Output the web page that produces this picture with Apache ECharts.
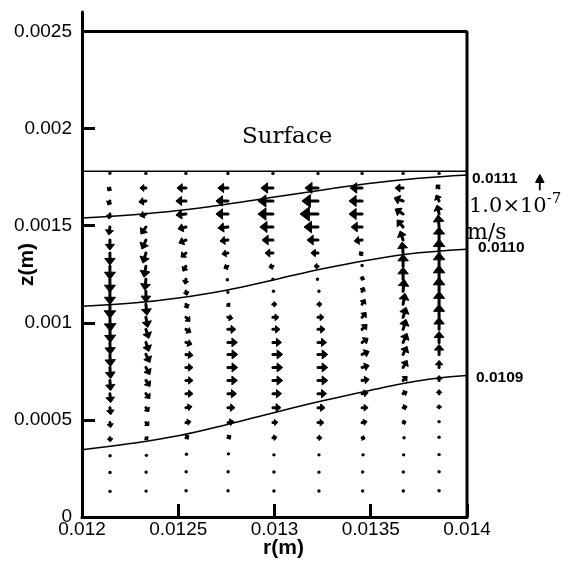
<!DOCTYPE html>
<html>
<head>
<meta charset="utf-8">
<script src="https://cdn.jsdelivr.net/npm/echarts@6/dist/echarts.min.js"></script>
<style>
  html, body { margin: 0; padding: 0; background: #fff; }
  #chart { width: 568px; height: 561px; }
</style>
</head>
<body>
<div id="chart"></div>
<script>
// Radial positions of the vector columns (m)
const rCols = [0.012145, 0.012332, 0.01254, 0.012758, 0.012992, 0.013226, 0.013455, 0.013668, 0.013855];
// Axial positions of the vector rows (m), top row first
const zRows = [0.001767, 0.001694, 0.001627, 0.00156, 0.001493, 0.001426, 0.001359, 0.001291,
               0.001224, 0.001162, 0.001095, 0.001028, 0.000966, 0.000899, 0.000837, 0.00077,
               0.000703, 0.000635, 0.000563, 0.000486, 0.000408, 0.00032, 0.000232, 0.000134];

// Radial velocity u, in 1e-8 m/s (one inner array per column, top row first)
const uVel = [
  [0, -1.3, -1.3, -0.7, -0.7, 0, 0, 0, 0, 0, 0, 0.3, 0.3, 0.3, 0.4, 0.5, 0.5, 0.5, 0.6, 0.5, 0.3, 0.2, 0.1, 0.1],
  [0, -4, -4.7, -4, -3.3, -2.7, -2, -1.3, -0.7, 0, 0.7, 1.3, 2, 2, 2.7, 2.7, 2.7, 2.7, 2, 2, 1.3, 0.7, 0.3, 0.2],
  [0, -6, -6.7, -6.7, -5.3, -4.7, -3.3, -2, -0.7, 0.7, 1.3, 2.7, 3.3, 4, 4.7, 4.7, 4.7, 4.7, 4, 3.3, 2, 0.7, 0.3, 0.2],
  [0, -6.7, -8, -8, -6.7, -5.3, -4, -2.7, -0.7, 0, 1.3, 3.3, 5.3, 6.3, 6.5, 6.5, 6.3, 5.7, 4.7, 4, 2, 0.7, 0.3, 0.2],
  [0, -8, -10, -10, -8.7, -7.3, -5.3, -2.7, 0, 0.7, 2.7, 4, 4.7, 5.7, 6.5, 6.5, 6.5, 5.7, 5.3, 3.3, 2.7, 1.3, 1.3, 1.3],
  [0, -8.7, -10.7, -12, -9.3, -7.3, -4.7, -2.7, -0.7, 1.3, 2.7, 4, 4.7, 5.7, 6.5, 6.5, 6.5, 5.7, 4.7, 4, 2.7, 1.3, 1.3, 1.3],
  [0, -8, -8.7, -8.7, -7.3, -5.3, -2, 0, 0.7, 1.3, 2, 2.7, 3.3, 4, 4.7, 4.7, 4.7, 4, 4, 3.3, 2, 1.3, 0.7, 0.7],
  [0, -5.3, -6, -5.3, -4, -2, -0.7, 0, 0, 0.7, 1.3, 2, 2, 2.7, 2.7, 2.7, 2.7, 2.7, 2.7, 2, 1.3, 0.7, 0.3, 0.3],
  [0, -2, -2, -1.3, -0.7, 0, 0, 0, 0, 0, 0, 0, 0, 0, 0, 0, 0, 0, 0, 0, 0, 0, 0, 0]
];
// Axial velocity v, in 1e-8 m/s (one inner array per column, top row first)
const vVel = [
  [0.7, -2, -2.7, -3.3, -5.3, -6.7, -8, -8.7, -8.7, -8.7, -9.3, -9.3, -8.7, -8, -8, -7.3, -6.7, -6, -4.7, -3.3, -2.7, -1.3, -0.7, -0.5],
  [0.5, 0, -0.7, -1.3, -4.7, -6, -6.7, -7.3, -7.3, -7.3, -7.3, -6.7, -6, -6, -5.3, -4.7, -4, -3.3, -2.7, -2, -1.3, -0.7, -0.3, -0.2],
  [0.5, 0, 0, -0.7, -1.3, -2, -2.7, -3.3, -3.3, -2.7, -2.7, -2.7, -2, -1.3, -0.7, 0, 0, 0, 0.7, 0.7, 1.3, 0.7, 0.3, 0.2],
  [0.5, 0, 0, 0, -0.7, -0.7, -0.7, -1.3, -0.7, -1.3, -1.3, -0.7, 0, 0, 0, 0, 0, 0, 0, 0.7, 1.3, 1.3, 0.3, 0.2],
  [0.5, 0, 0, 0, 0, 0, 0, -0.7, 0, 0, 0, 0, 0, 0, 0, 0, 0, 0, 0, 0.3, 0.3, 0, 0, 0],
  [0.5, 0, 0, 0, 0, 0, 0, 0, 0, 0, 0, 0, 0, 0, 0, 0, 0, 0, 0, 0, 0, 0, -0.3, 0],
  [0.5, 0, 0, 0, 0, -0.7, -1.3, 1, 2, 2.7, 3.3, 3.3, 3.3, 2.7, 2, 1.3, 0.7, 0.7, 0, 0.7, -0.7, 0, 0, 0],
  [0.5, 0, 2, 3.3, 4.7, 6, 7.3, 8, 8, 8, 7.3, 6.7, 6.7, 6, 5.3, 4.7, 2.7, 1.3, 0.7, 0.7, 0, 0, 0, 0],
  [0.5, 2, 4, 6, 8, 8.7, 9.3, 9.3, 9.3, 9.3, 8.7, 8.7, 8, 7.3, 6.7, 4.7, 3.3, 2.7, 2, 1.3, 0.7, 0.3, 0.3, 0.3]
];

// Concentration contours: r (m), z (m) pairs
const contourR = [0.012, 0.01225, 0.0125, 0.01275, 0.013, 0.01325, 0.0135, 0.01375, 0.014];
const contour0111 = [0.001539, 0.001555, 0.001578, 0.00161, 0.001647, 0.001684, 0.001718, 0.001744, 0.001761];
const contour0110 = [0.001085, 0.0011, 0.001128, 0.001168, 0.001222, 0.001278, 0.001325, 0.00136, 0.001379];
const contour0109 = [0.000346, 0.000378, 0.000418, 0.000475, 0.000538, 0.000598, 0.000653, 0.000702, 0.000728];

const surfaceZ = 0.00178;
const domainTop = 0.0025;
const refSpeed = 10; // 1.0e-7 m/s in 1e-8 m/s units

const xTicks = [0.012, 0.0125, 0.013, 0.0135, 0.014];
const yTicks = [0, 0.0005, 0.001, 0.0015, 0.002, 0.0025];

const PX_PER_UNIT = 1.5;
const SANS = '"Liberation Sans", Arial, sans-serif';
const SERIF = '"DejaVu Serif", "Liberation Serif", serif';

// Arrow glyph (tail at x,y) built from shaft + filled head
function arrowChildren(x, y, u, v, scale, shaftW, headK) {
  const mag = Math.hypot(u, v);
  const L = mag * scale;
  if (L < 2.5) {
    return [{ type: 'circle', shape: { cx: x + (mag ? u / mag : 0) * L / 2, cy: y - (mag ? v / mag : 0) * L / 2, r: 1.7 },
              style: { fill: '#000' } }];
  }
  const dx = u / mag, dy = -v / mag;
  const px = -dy, py = dx;
  const tx = x + dx * L, ty = y + dy * L;
  const h = 0.45 * L + 1.2;
  const w = headK * L + 1.6;
  const bx = tx - dx * h, by = ty - dy * h;
  return [
    { type: 'line', shape: { x1: x, y1: y, x2: bx + dx * 0.5, y2: by + dy * 0.5 },
      style: { stroke: '#000', lineWidth: shaftW, lineCap: 'round' } },
    { type: 'polygon', shape: { points: [[tx, ty], [bx + px * w, by + py * w], [bx - px * w, by - py * w]] },
      style: { fill: '#000', stroke: '#000', lineWidth: 1, lineJoin: 'round' } }
  ];
}

const vectorData = [];
rCols.forEach((r, i) => {
  zRows.forEach((z, j) => {
    vectorData.push([r, z, uVel[i][j], vVel[i][j]]);
  });
});

function fmt(v) {
  return String(parseFloat(v.toFixed(6)));
}

function contourSeries(name, zs, offset) {
  return {
    type: 'line', name: name, smooth: 0.4, symbol: 'none', silent: true,
    data: contourR.map((r, i) => [r, zs[i]]),
    lineStyle: { color: '#000', width: 1.5 },
    endLabel: { show: true, formatter: name, distance: 5, offset: offset,
                color: '#000', fontFamily: SANS, fontWeight: 'bold', fontSize: 15.5 },
    z: 3
  };
}

const chart = echarts.init(document.getElementById('chart'), null, { renderer: 'canvas' });

chart.setOption({
  animation: false,
  backgroundColor: '#fff',
  grid: { left: 82, right: 101, top: 12, bottom: 44, containLabel: false, outerBoundsMode: 'none' },
  xAxis: {
    type: 'value', min: 0.012, max: 0.014, interval: 0.0005,
    name: 'r(m)', nameLocation: 'middle', nameGap: 21, nameMoveOverlap: false,
    nameTextStyle: { fontFamily: SANS, fontWeight: 'bold', fontSize: 21, color: '#000', padding: [0, 0, 0, 18] },
    axisLine: { onZero: false, lineStyle: { color: '#000', width: 3 } },
    axisTick: { inside: true, length: 13, customValues: xTicks, lineStyle: { color: '#000', width: 3 } },
    axisLabel: { customValues: xTicks, color: '#000', fontFamily: SANS, fontSize: 19, margin: 3, formatter: fmt },
    splitLine: { show: false }
  },
  yAxis: {
    type: 'value', min: 0, max: 0.0026, interval: 0.0005,
    name: 'z(m)', nameLocation: 'middle', nameGap: 44, nameRotate: 90, nameMoveOverlap: false,
    nameTextStyle: { fontFamily: SANS, fontWeight: 'bold', fontSize: 21, color: '#000' },
    axisLine: { lineStyle: { color: '#000', width: 3 } },
    axisTick: { inside: true, length: 13, customValues: yTicks, lineStyle: { color: '#000', width: 3 } },
    axisLabel: { customValues: yTicks, color: '#000', fontFamily: SANS, fontSize: 19, margin: 10, formatter: fmt },
    splitLine: { show: false }
  },
  series: [
    {
      type: 'line', name: 'frame', symbol: 'none', silent: true,
      data: [[0.012, domainTop], [0.014, domainTop], [0.014, 0]],
      lineStyle: { color: '#000', width: 3 }, z: 4
    },
    {
      type: 'line', name: 'surface', symbol: 'none', silent: true,
      data: [[0.012, surfaceZ], [0.014, surfaceZ]],
      lineStyle: { color: '#000', width: 1.6 }, z: 3
    },
    contourSeries('0.0111', contour0111, [0, 4]),
    contourSeries('0.0110', contour0110, [6, -1]),
    contourSeries('0.0109', contour0109, [4, 2]),
    {
      type: 'custom', name: 'velocity', silent: true, z: 5,
      data: vectorData,
      renderItem: function (params, api) {
        const p = api.coord([api.value(0), api.value(1)]);
        return { type: 'group',
                 children: arrowChildren(p[0], p[1], api.value(2), api.value(3), PX_PER_UNIT, 3, 0.3) };
      }
    }
  ],
  graphic: [
    { type: 'text', left: 242, top: 126,
      style: { text: 'Surface', font: '23px ' + SERIF, fill: '#000' } },
    { type: 'group', left: 535, top: 174,
      children: arrowChildren(5, 16, 0, refSpeed, PX_PER_UNIT, 1.8, 0.18) },
    { type: 'text', left: 469, top: 192,
      style: { text: '{b|1.0×10}{s|-7}', rich: {
        b: { font: '21px ' + SERIF, fill: '#000', verticalAlign: 'bottom' },
        s: { font: '15px ' + SERIF, fill: '#000', verticalAlign: 'top', padding: [0, 0, 10, 0] } } } },
    { type: 'text', left: 467, top: 222,
      style: { text: 'm/s', font: '22px ' + SERIF, fill: '#000' } }
  ]
});
</script>
</body>
</html>
